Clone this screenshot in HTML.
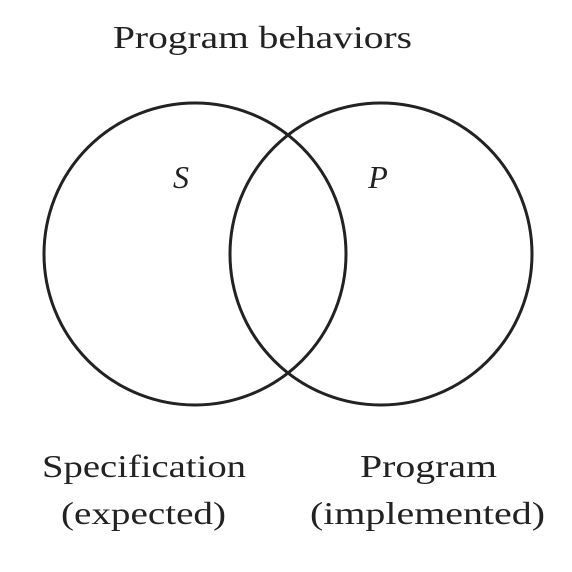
<!DOCTYPE html>
<html><head><style>
html,body{margin:0;padding:0;background:#fff;}
</style></head><body>
<svg width="572" height="572" viewBox="0 0 572 572" xmlns="http://www.w3.org/2000/svg" style="display:block">
<rect width="572" height="572" fill="#fff"/>
<circle cx="195" cy="254" r="151" fill="none" stroke="#222" stroke-width="3"/>
<circle cx="381" cy="254" r="151" fill="none" stroke="#222" stroke-width="3"/>
<g font-family="Liberation Serif, serif" fill="#222" font-size="32">
<text x="113" y="48" textLength="299" lengthAdjust="spacingAndGlyphs">Program behaviors</text>
<text x="181" y="188" font-style="italic" text-anchor="middle">S</text>
<text x="378" y="188" font-style="italic" text-anchor="middle">P</text>
<text x="42" y="477" textLength="204" lengthAdjust="spacingAndGlyphs">Specification</text>
<text x="61" y="524" textLength="165" lengthAdjust="spacingAndGlyphs">(expected)</text>
<text x="360" y="477" textLength="137" lengthAdjust="spacingAndGlyphs">Program</text>
<text x="310" y="524" textLength="235" lengthAdjust="spacingAndGlyphs">(implemented)</text>
</g>
</svg>
</body></html>
